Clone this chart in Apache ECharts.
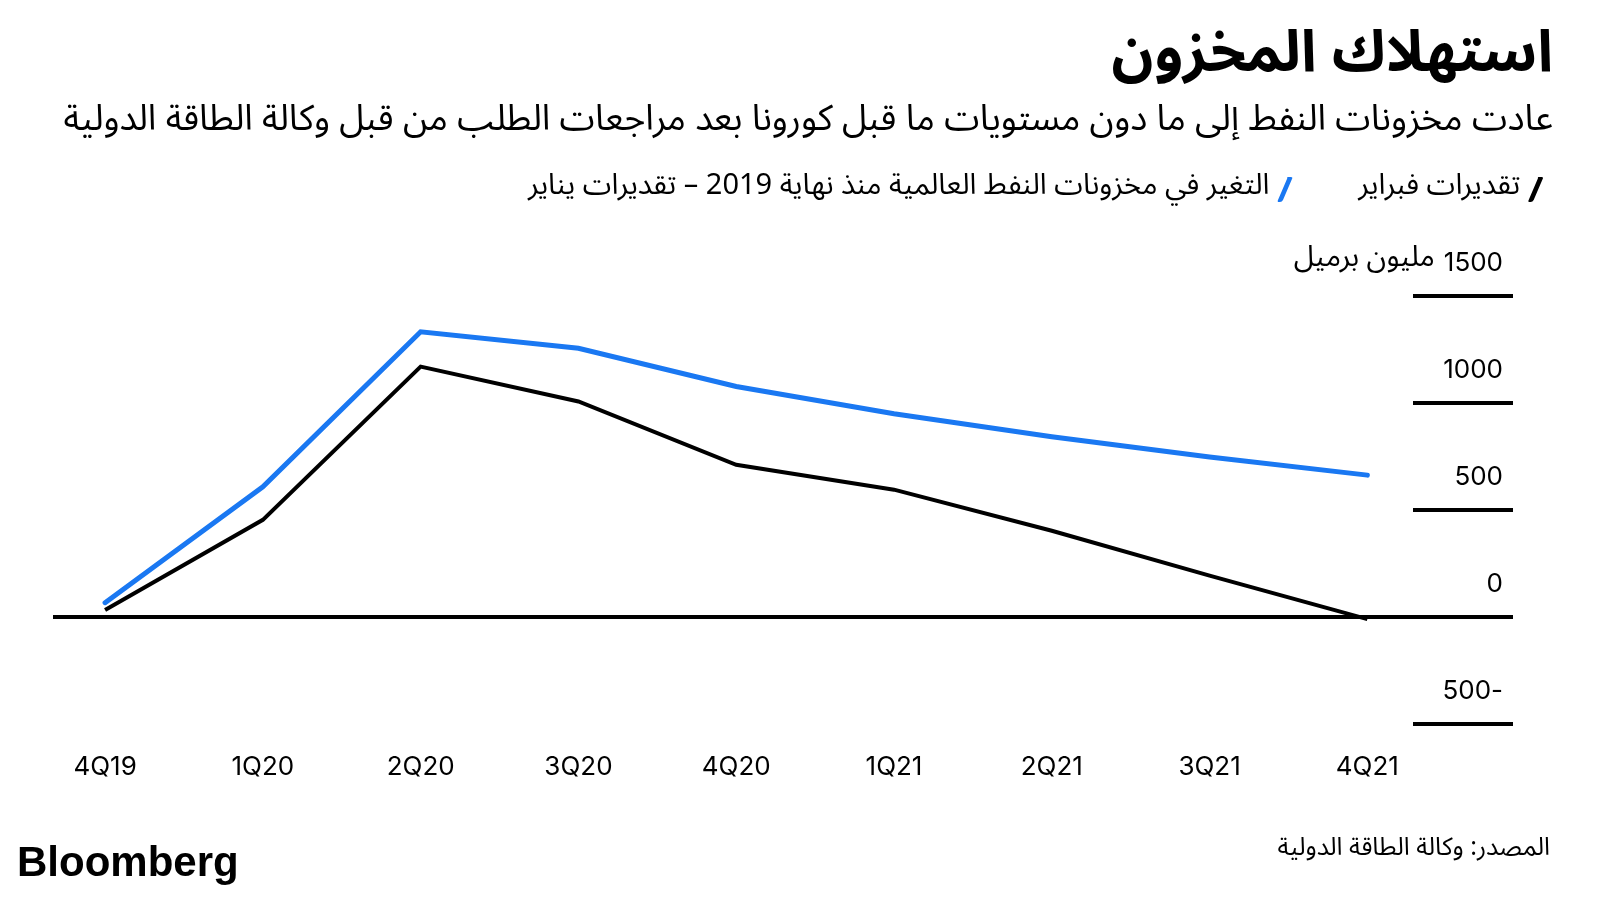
<!DOCTYPE html>
<html>
<head>
<meta charset="utf-8">
<script src="https://cdn.jsdelivr.net/npm/echarts@6/dist/echarts.min.js"></script>
<style>html,body{margin:0;padding:0;background:#fff}#c{width:1600px;height:900px}</style>
</head>
<body>
<div id="c"></div>
<script>
const categories = ['4Q19','1Q20','2Q20','3Q20','4Q20','1Q21','2Q21','3Q21','4Q21'];
const januaryEstimates = [67, 608, 1333, 1256, 1077, 950, 842, 748, 663];
const februaryEstimates = [33, 454, 1170, 1007, 711, 595, 403, 193, -10];
const yTicks = [-500, 0, 500, 1000, 1500];
const seriesNames = {
  jan: 'التغير في مخزونات النفط العالمية منذ نهاية 2019 – تقديرات يناير',
  feb: 'تقديرات فبراير'
};
const titleText = 'استهلاك المخزون';
const subtitleText = 'عادت مخزونات النفط إلى ما دون مستويات ما قبل كورونا بعد مراجعات الطلب من قبل وكالة الطاقة الدولية';
const sourceText = 'المصدر: وكالة الطاقة الدولية';
const unitText = 'مليون برميل';

const AR = "'Noto Sans Arabic','DejaVu Sans',sans-serif";
const LAT = "Inter, Roboto, 'DejaVu Sans', sans-serif";
const RLM = '\u200F';

const chart = echarts.init(document.getElementById('c'), null, {renderer: 'canvas'});
const slash = 'path://M9,0 L13,0 Q15,0 14,2 L5,23 Q4,25 2,25 L1,25 Q-1,25 0,23 L9,2 Q10,0 9,0 Z';

chart.setOption({
  backgroundColor: '#fff',
  animation: false,
  title: [
    {text: titleText, right: 42, top: 28, textStyle: {fontFamily: AR, fontSize: 58, fontWeight: 'bold', color: '#000'}},
    {text: subtitleText, right: 42, top: 102, textStyle: {fontFamily: AR, fontSize: 35.8, fontWeight: 'normal', color: '#000'}},
    {text: sourceText, right: 45, top: 834, textStyle: {fontFamily: AR, fontSize: 25, fontWeight: 'normal', color: '#000'}},
    {text: 'Bloomberg', left: 12, top: 838, textStyle: {fontFamily: "'Liberation Sans', Arial, sans-serif", fontSize: 42, fontWeight: 'bold', color: '#000'}}
  ],
  legend: {
    data: [seriesNames.jan, seriesNames.feb],
    right: 52, top: 170,
    align: 'right',
    icon: slash,
    itemWidth: 15, itemHeight: 25,
    itemGap: 66,
    textStyle: {fontFamily: AR, fontSize: 29, color: '#000', padding: [0, 3, 0, 0]},
    selectedMode: false
  },
  grid: [
    {left: 53, right: 87, top: 296, bottom: 176},
    {left: 1413, right: 87, top: 296, bottom: 176}
  ],
  xAxis: [
    {
      type: 'value', gridIndex: 0, min: -0.33, max: 8.923,
      axisLine: {show: false}, axisTick: {show: false}, splitLine: {show: false},
      axisLabel: {
        customValues: categories.map((c, i) => i),
        formatter: v => categories[Math.round(v)] || '',
        margin: 30, fontSize: 26, fontFamily: LAT, color: '#000'
      }
    },
    {type: 'value', gridIndex: 1, show: false, min: 0, max: 1}
  ],
  yAxis: [
    {type: 'value', gridIndex: 0, min: -500, max: 1500, interval: 500, show: false},
    {
      type: 'value', gridIndex: 1, min: -500, max: 1500, interval: 500, position: 'right',
      axisLine: {show: false}, axisTick: {show: false},
      splitLine: {show: true, lineStyle: {color: '#000', width: 4}},
      axisLabel: {
        inside: true, margin: 10, fontSize: 26, fontFamily: LAT, color: '#000',
        verticalAlign: 'bottom', padding: [0, 0, 20, 0],
        formatter: v => {
          if (v === 1500) return '{ar|' + unitText + '}{n|' + v + '}';
          if (v < 0) return RLM + '-' + Math.abs(v);
          return String(v);
        },
        rich: {
          ar: {fontFamily: AR, fontSize: 29, lineHeight: 30, color: '#000', verticalAlign: 'bottom'},
          n: {fontFamily: LAT, fontSize: 26, lineHeight: 30, color: '#000', verticalAlign: 'bottom', padding: [0, 0, 0, 9]}
        }
      }
    }
  ],
  series: [
    {
      name: seriesNames.jan, type: 'line', xAxisIndex: 0, yAxisIndex: 0,
      data: januaryEstimates.map((v, i) => [i, v]),
      symbol: 'none', color: '#1a78f2',
      lineStyle: {color: '#1a78f2', width: 5, cap: 'round', join: 'miter'},
      z: 3
    },
    {
      name: seriesNames.feb, type: 'line', xAxisIndex: 0, yAxisIndex: 0,
      data: februaryEstimates.map((v, i) => [i, v]),
      symbol: 'none', color: '#000',
      lineStyle: {color: '#000', width: 4, join: 'miter'},
      z: 2,
      markLine: {
        silent: true, symbol: 'none', label: {show: false},
        lineStyle: {color: '#000', width: 4, type: 'solid'},
        data: [{yAxis: 0}]
      }
    }
  ]
});
</script>
</body>
</html>
